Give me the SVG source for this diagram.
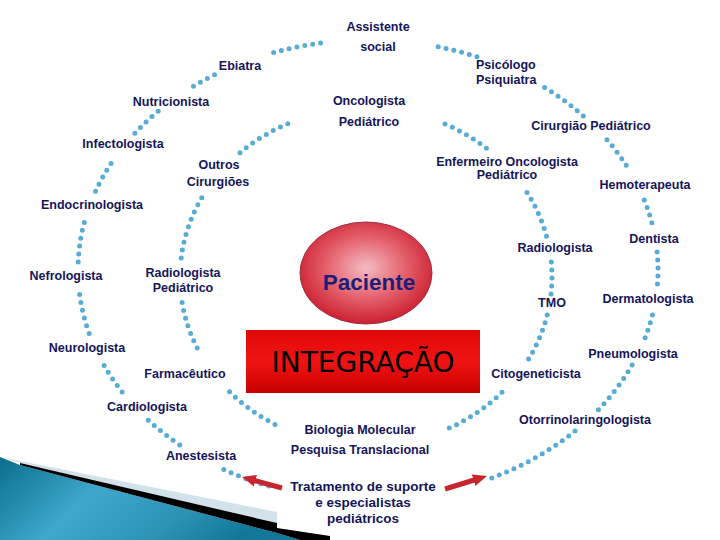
<svg xmlns="http://www.w3.org/2000/svg" width="720" height="540" viewBox="0 0 720 540">
<defs>
<style>
.lbl{font-family:"Liberation Sans",Arial,sans-serif;font-weight:bold;font-size:12.5px;fill:#15155a;text-anchor:middle}
.dots{fill:none;stroke:#58acd4;stroke-width:5;stroke-linecap:round;stroke-dasharray:0 8}
.arr{fill:none;stroke:#c8262e;stroke-width:5}
</style>
<marker id="ah" markerUnits="userSpaceOnUse" markerWidth="14" markerHeight="12" viewBox="0 0 14 12" refX="4" refY="6" orient="auto">
<path d="M0,0 L14,6 L0,12 z" fill="#c8262e"/>
</marker>
<radialGradient id="pg" cx="0.5" cy="0.45" r="0.55">
<stop offset="0" stop-color="#f4bcc4"/>
<stop offset="0.55" stop-color="#e4606c"/>
<stop offset="1" stop-color="#cc2030"/>
</radialGradient>
<linearGradient id="ig" x1="0" y1="0" x2="0" y2="1">
<stop offset="0" stop-color="#e00808"/>
<stop offset="0.5" stop-color="#f01414"/>
<stop offset="1" stop-color="#c80000"/>
</linearGradient>
<linearGradient id="tg" x1="0" y1="0" x2="1" y2="0.3">
<stop offset="0" stop-color="#0b6d8d"/>
<stop offset="0.4" stop-color="#3ea8cc"/>
<stop offset="0.75" stop-color="#2b92b4"/>
<stop offset="1" stop-color="#117899"/>
</linearGradient>
</defs>
<rect width="720" height="540" fill="#ffffff"/>
<g id="decoration">
<polygon points="0,457 20,465 277,533 300,540 0,540" fill="url(#tg)"/>
<polygon points="0,457 277,512 277,523 20,463" fill="#d3e2ea"/>
<polygon points="20,463 277,523 277,528 330,536 330,540 300,540 277,533 20,465" fill="#000000"/>
</g>
<g id="connectors">
<path class="dots" d="M273.6,52.5 A290,230 0 0 1 322.6,42.8"/>
<path class="dots" d="M438.2,46.8 A290,230 0 0 1 481.3,58.3"/>
<path class="dots" d="M193.5,86.3 A290,230 0 0 1 218.6,72.8"/>
<path class="dots" d="M134.9,133.2 A290,230 0 0 1 159.4,110.2"/>
<path class="dots" d="M95.5,191.3 A290,230 0 0 1 114.4,158.5"/>
<path class="dots" d="M78.2,262 A290,230 0 0 1 85.4,218.3"/>
<path class="dots" d="M89.2,333.4 A290,230 0 0 1 79.1,290"/>
<path class="dots" d="M122.1,391.9 A290,230 0 0 1 102,361.7"/>
<path class="dots" d="M179.7,444.9 A290,230 0 0 1 147.5,419.4"/>
<path class="dots" d="M268.8,486.1 A290,230 0 0 1 223,469.2"/>
<path class="dots" d="M544.6,87.5 A290,230 0 0 1 583.5,116.1"/>
<path class="dots" d="M607,139.7 A290,230 0 0 1 627.9,168"/>
<path class="dots" d="M644.3,200 A290,230 0 0 1 653.1,228"/>
<path class="dots" d="M657.1,252 A290,230 0 0 1 656.9,290"/>
<path class="dots" d="M652.4,315 A290,230 0 0 1 642.2,345"/>
<path class="dots" d="M632.1,365 A290,230 0 0 1 598.1,410"/>
<path class="dots" d="M575,431 A290,230 0 0 1 485.9,480.1"/>
<path class="dots" d="M240,152.7 A186,169 0 0 1 288,123.6"/>
<path class="dots" d="M445,124 A186,169 0 0 1 492,152.7"/>
<path class="dots" d="M181.2,258 A186,169 0 0 1 202,197.3"/>
<path class="dots" d="M197.2,348 A186,169 0 0 1 182,302"/>
<path class="dots" d="M275,424.4 A186,169 0 0 1 227,389.3"/>
<path class="dots" d="M527,192.4 A186,169 0 0 1 547,238"/>
<path class="dots" d="M551.3,262 A186,169 0 0 1 550.9,295"/>
<path class="dots" d="M547.2,315 A186,169 0 0 1 526.1,363"/>
<path class="dots" d="M502,392.3 A186,169 0 0 1 445,430"/>
<line class="arr" x1="282" y1="488" x2="251.6" y2="479.7" marker-end="url(#ah)"/>
<line class="arr" x1="445" y1="489" x2="477.4" y2="479" marker-end="url(#ah)"/>
</g>
<g id="paciente">
<ellipse cx="366" cy="273" rx="66" ry="51" fill="url(#pg)" stroke="#9a3048" stroke-width="1"/>
<text x="369" y="290" style="font-family:'Liberation Sans',Arial,sans-serif;font-weight:bold;font-size:22.5px;fill:#1e1e78;text-anchor:middle">Paciente</text>
</g>
<g id="integracao">
<rect x="246" y="330" width="234" height="63" fill="url(#ig)"/>
<text x="363" y="372" style="font-family:'DejaVu Sans',sans-serif;font-size:28px;fill:#000000;text-anchor:middle">INTEGRAÇÃO</text>
</g>
<g id="assistente"><text class="lbl" x="378" y="31">Assistente</text><text class="lbl" x="378" y="51">social</text></g>
<g id="ebiatra"><text class="lbl" x="240" y="70">Ebiatra</text></g>
<g id="psicologo"><text class="lbl" x="476" y="69" style="text-anchor:start">Psicólogo</text><text class="lbl" x="476" y="84" style="text-anchor:start">Psiquiatra</text></g>
<g id="nutricionista"><text class="lbl" x="171" y="106">Nutricionista</text></g>
<g id="oncologista"><text class="lbl" x="369" y="105">Oncologista</text><text class="lbl" x="369" y="126">Pediátrico</text></g>
<g id="cirurgiao"><text class="lbl" x="591" y="130">Cirurgião Pediátrico</text></g>
<g id="infectologista"><text class="lbl" x="123" y="148">Infectologista</text></g>
<g id="outros"><text class="lbl" x="219" y="169">Outros</text><text class="lbl" x="218" y="186">Cirurgiões</text></g>
<g id="enfermeiro"><text class="lbl" x="507" y="166">Enfermeiro Oncologista</text><text class="lbl" x="507" y="179">Pediátrico</text></g>
<g id="hemoterapeuta"><text class="lbl" x="645" y="189">Hemoterapeuta</text></g>
<g id="endocrinologista"><text class="lbl" x="92" y="209">Endocrinologista</text></g>
<g id="radiologista"><text class="lbl" x="555" y="252">Radiologista</text></g>
<g id="dentista"><text class="lbl" x="654" y="243">Dentista</text></g>
<g id="nefrologista"><text class="lbl" x="66" y="280">Nefrologista</text></g>
<g id="radiologista-ped"><text class="lbl" x="183" y="277">Radiologista</text><text class="lbl" x="183" y="292">Pediátrico</text></g>
<g id="tmo"><text class="lbl" x="552" y="307">TMO</text></g>
<g id="dermatologista"><text class="lbl" x="648" y="303">Dermatologista</text></g>
<g id="neurologista"><text class="lbl" x="87" y="352">Neurologista</text></g>
<g id="pneumologista"><text class="lbl" x="633" y="358">Pneumologista</text></g>
<g id="farmaceutico"><text class="lbl" x="185" y="378">Farmacêutico</text></g>
<g id="citogeneticista"><text class="lbl" x="536" y="378">Citogeneticista</text></g>
<g id="cardiologista"><text class="lbl" x="147" y="411">Cardiologista</text></g>
<g id="otorrino"><text class="lbl" x="585" y="424">Otorrinolaringologista</text></g>
<g id="biologia"><text class="lbl" x="360" y="434">Biologia Molecular</text><text class="lbl" x="360" y="454">Pesquisa Translacional</text></g>
<g id="anestesista"><text class="lbl" x="201" y="460">Anestesista</text></g>
<g id="tratamento"><text class="lbl" x="363" y="491" style="font-size:13.5px">Tratamento de suporte</text><text class="lbl" x="363" y="507" style="font-size:13.5px">e especialistas</text><text class="lbl" x="363" y="523" style="font-size:13.5px">pediátricos</text></g>
</svg>
